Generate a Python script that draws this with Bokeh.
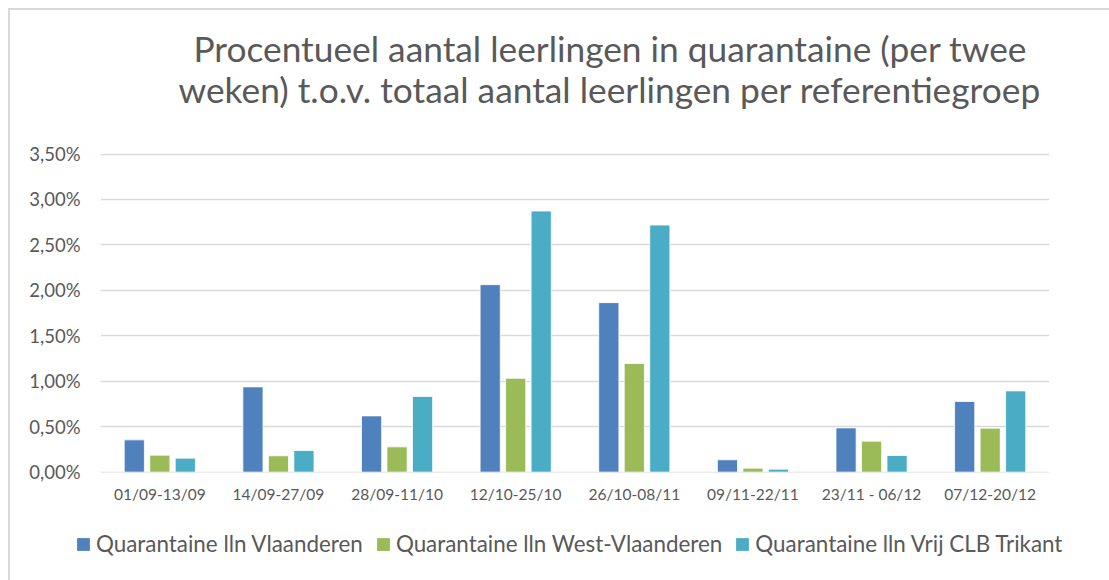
from bokeh.plotting import figure
from bokeh.layouts import column
from bokeh.models import (ColumnDataSource, FactorRange, FixedTicker, CustomJSTickFormatter,
                          Legend, LegendItem, Title, Range1d)
from bokeh.transform import dodge
from bokeh.embed import file_html
from bokeh.resources import INLINE

# ---- data (percent of pupils in quarantine) ----
periods = ["01/09-13/09", "14/09-27/09", "28/09-11/10", "12/10-25/10",
           "26/10-08/11", "09/11-22/11", "23/11 - 06/12", "07/12-20/12"]
vlaanderen = [0.355, 0.938, 0.619, 2.063, 1.865, 0.136, 0.487, 0.777]
west_vlaanderen = [0.187, 0.180, 0.278, 1.033, 1.195, 0.044, 0.341, 0.484]
vrij_clb_trikant = [0.154, 0.238, 0.832, 2.873, 2.719, 0.033, 0.183, 0.894]
series_names = ["Quarantaine lln Vlaanderen", "Quarantaine lln West-Vlaanderen",
                "Quarantaine lln Vrij CLB Trikant"]
y_ticks = [0, 0.5, 1.0, 1.5, 2.0, 2.5, 3.0, 3.5]
title_lines = ["Procentueel aantal leerlingen in quarantaine (per twee",
               "weken) t.o.v. totaal aantal leerlingen per referentiegroep"]

colors = ["#4f81bd", "#9bbb59", "#4bacc6"]
cols = ["a", "b", "c"]
offsets = [-0.215, 0.0, 0.215]
FONT = "Lato"
TXT = "#595959"
BORDER = "2px solid #d9d9d9"

source = ColumnDataSource(dict(x=periods, a=vlaanderen, b=west_vlaanderen, c=vrij_clb_trikant))

# ---------------- main chart ----------------
p = figure(width=1099, height=510, x_range=FactorRange(*periods), y_range=Range1d(-0.004, 3.506),
           output_backend="svg", toolbar_location=None, title_location=None,
           min_border_left=90, min_border_right=60, min_border_top=143, min_border_bottom=48)
p.outline_line_color = None
p.background_fill_color = "white"
p.border_fill_color = "white"

for col, off, color in zip(cols, offsets, colors):
    p.vbar(x=dodge("x", off, range=p.x_range), top=col, width=0.17, source=source,
           fill_color=color, line_color="white", line_width=0.8)

p.yaxis.ticker = FixedTicker(ticks=y_ticks)
p.yaxis.formatter = CustomJSTickFormatter(code="return tick.toFixed(2).replace('.', ',') + '%';")
for ax in (p.xaxis[0], p.yaxis[0]):
    ax.axis_line_color = None
    ax.major_tick_line_color = None
    ax.minor_tick_line_color = None
    ax.major_tick_out = 0
    ax.major_tick_in = 0
    ax.major_label_text_color = TXT
    ax.major_label_text_font = FONT
p.yaxis.major_label_text_font_size = "18.5px"
p.yaxis.major_label_standoff = 20
p.xaxis.major_label_text_font_size = "15.5px"
p.xaxis.major_label_standoff = 12

p.xgrid.grid_line_color = None
p.ygrid.ticker = FixedTicker(ticks=y_ticks)
p.ygrid.grid_line_color = "#d9d9d9"
p.ygrid.grid_line_width = 1.5

# title: spacer + two lines stacked above the frame (first added = closest to frame)
p.add_layout(Title(text=" ", text_font_size="1px", standoff=40), "above")
p.add_layout(Title(text=title_lines[1], align="left", offset=78, vertical_align="bottom",
                   standoff=0, text_font=FONT, text_font_size="35.3px", text_font_style="normal",
                   text_color=TXT), "above")
p.add_layout(Title(text=title_lines[0], align="left", offset=93, vertical_align="bottom",
                   standoff=-8, text_font=FONT, text_font_size="35.3px", text_font_style="normal",
                   text_color=TXT), "above")

# ---------------- legend strip ----------------
# zero-height copies of the bars: only their legend swatches are visible
lg = figure(width=1099, height=60, x_range=p.x_range, y_range=Range1d(10, 11),
            output_backend="svg", toolbar_location=None, title_location=None,
            x_axis_type=None, y_axis_type=None,
            min_border_left=0, min_border_right=0, min_border_top=0, min_border_bottom=0)
lg.outline_line_color = None
lg.xgrid.visible = False
lg.ygrid.visible = False
lg.background_fill_color = "white"
lg.border_fill_color = "white"

aligned = True
for fig in (p, lg):
    if "frame_align" in fig.properties():
        fig.frame_align = False
        aligned = False

swatches = [lg.vbar(x=dodge("x", off, range=lg.x_range), top=col, bottom=col, width=0.17,
                    source=source, fill_color=color, line_color=None)
            for col, off, color in zip(cols, offsets, colors)]
legend = Legend(items=[LegendItem(label=n, renderers=[r]) for n, r in zip(series_names, swatches)],
                orientation="horizontal", location=(-24 if aligned else 65, 23),
                padding=0, margin=0, spacing=12, label_standoff=5,
                glyph_width=16, glyph_height=16, label_height=20,
                label_text_font=FONT, label_text_font_size="22.4px", label_text_color=TXT,
                border_line_color=None, background_fill_alpha=0)
lg.add_layout(legend, "center")

layout = column(p, lg, spacing=0)
layout.styles = {"margin-left": "8px", "margin-top": "8px",
                 "border-left": BORDER, "border-top": BORDER}

open("out.html", "w").write(file_html(layout, INLINE))
